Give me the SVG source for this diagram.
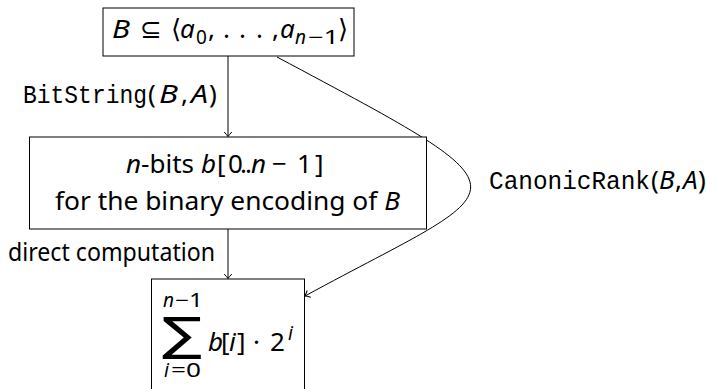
<svg xmlns="http://www.w3.org/2000/svg" width="706" height="389" viewBox="0 0 706 389">
<defs>
<style>
.box{fill:#fff;stroke:#000;stroke-width:1}
.edge{fill:none;stroke:#000;stroke-width:1}
text{font-family:"Noto Sans","DejaVu Sans",sans-serif;font-size:26px;fill:#000}
.it{font-style:italic}
.mono{font-family:"Liberation Mono","DejaVu Sans Mono",monospace}
.sub{font-size:19px}
</style>
<marker id="arr" markerWidth="12" markerHeight="12" refX="0" refY="0" viewBox="-6 -6 12 12" orient="auto" markerUnits="userSpaceOnUse">
<path d="M -4.5,-3.8 Q -1.2,-0.8 0,0 Q -1.2,0.8 -4.5,3.8" fill="none" stroke="#000" stroke-width="1"/>
</marker>
</defs>
<rect width="706" height="389" fill="#fff"/>
<g id="connectors">
<path class="edge" d="M228,56 L228,136.5" marker-end="url(#arr)"/>
<path class="edge" d="M228,229 L228,278.5" marker-end="url(#arr)"/>
<path class="edge" d="M277,57 C545,200 516,181 305,296" marker-end="url(#arr)"/>
<text x="23" y="103"><tspan class="mono" textLength="124" lengthAdjust="spacingAndGlyphs">BitString</tspan><tspan x="148">(</tspan><tspan x="159" class="it" textLength="19" lengthAdjust="spacingAndGlyphs">B</tspan><tspan x="181">,</tspan><tspan x="191" class="it" textLength="17" lengthAdjust="spacingAndGlyphs">A</tspan><tspan x="209">)</tspan></text>
<text x="8" y="261" textLength="207" lengthAdjust="spacingAndGlyphs">direct computation</text>
<text x="489" y="189"><tspan class="mono" textLength="161" lengthAdjust="spacingAndGlyphs">CanonicRank</tspan><tspan x="651">(</tspan><tspan x="659" class="it">B</tspan><tspan x="675">,</tspan><tspan x="683" class="it">A</tspan><tspan x="698">)</tspan></text>
</g>
<g id="node-top">
<rect class="box" x="103" y="8" width="251" height="48"/>
<text y="38"><tspan x="112" class="it" textLength="18" lengthAdjust="spacingAndGlyphs">B</tspan><tspan x="140">⊆</tspan><tspan x="171">⟨</tspan><tspan x="180" class="it">a</tspan><tspan x="196" y="44" class="sub">0</tspan><tspan x="208" y="38">,</tspan><tspan x="223">.</tspan><tspan x="239">.</tspan><tspan x="256">.</tspan><tspan x="272">,</tspan><tspan x="280" class="it">a</tspan><tspan x="295" y="44" class="sub it">n</tspan><tspan x="308" class="sub" textLength="31" lengthAdjust="spacingAndGlyphs">−1</tspan><tspan x="338" y="38">⟩</tspan></text>
</g>
<g id="node-bits">
<rect class="box" x="29.5" y="137" width="397" height="92"/>
<text y="173"><tspan x="126" class="it">n</tspan><tspan>-bits</tspan><tspan x="201" class="it">b</tspan><tspan x="217">[</tspan><tspan x="228">0</tspan><tspan x="240">.</tspan><tspan x="245">.</tspan><tspan x="251" class="it">n</tspan><tspan x="272">−</tspan><tspan x="297">1</tspan><tspan x="315">]</tspan></text>
<text x="55" y="210" textLength="345" lengthAdjust="spacingAndGlyphs">for the binary encoding of <tspan class="it">B</tspan></text>
</g>
<g id="node-sum">
<rect class="box" x="151.5" y="279" width="153" height="120"/>
<text y="307" class="sub"><tspan x="163" class="it">n</tspan><tspan x="175" textLength="28" lengthAdjust="spacingAndGlyphs">−1</tspan></text>
<text x="162" y="350" textLength="40" lengthAdjust="spacingAndGlyphs" style="font-family:'DejaVu Sans',sans-serif;font-size:46px">∑</text>
<text y="351"><tspan x="208" class="it">b</tspan><tspan x="221">[</tspan><tspan x="229" class="it">i</tspan><tspan x="237">]</tspan><tspan x="253">·</tspan><tspan x="270">2</tspan><tspan x="288" y="340" class="sub it">i</tspan></text>
<text y="377" class="sub"><tspan x="164" class="it">i</tspan><tspan x="171" textLength="30" lengthAdjust="spacingAndGlyphs">=0</tspan></text>
</g>
</svg>
